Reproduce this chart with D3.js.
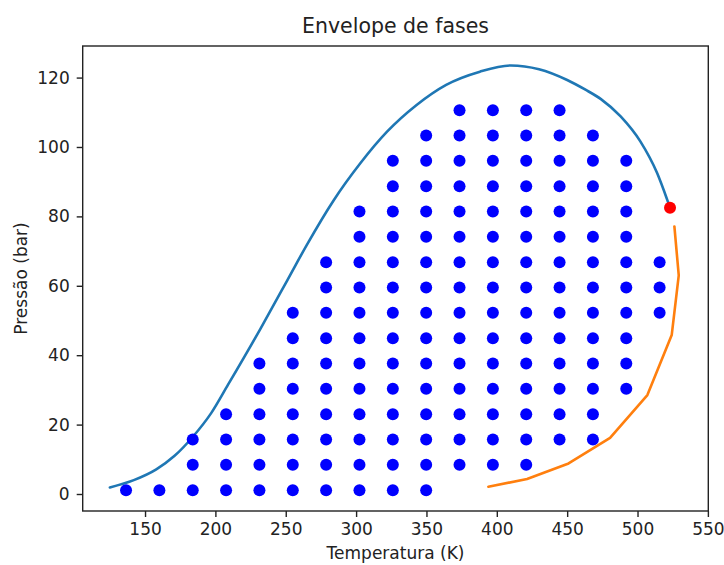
<!DOCTYPE html>
<html>
<head>
<meta charset="utf-8">
<script src="https://cdn.jsdelivr.net/npm/d3@7"></script>
<style>
  html, body { margin: 0; padding: 0; background: #fff; }
  svg { display: block; }
  text { font-family: "DejaVu Sans", sans-serif; fill: #222; }
</style>
</head>
<body>
<svg id="chart" width="724" height="565"></svg>
<script>
// Phase envelope: dew/bubble curve (blue), second branch (orange),
// critical point (red) and the grid of (T, P) states inside the envelope.

const title = "Envelope de fases";
const xLabel = "Temperatura (K)";
const yLabel = "Pressão (bar)";

const xTicks = [150, 200, 250, 300, 350, 400, 450, 500, 550];
const yTicks = [0, 20, 40, 60, 80, 100, 120];

// Envelope branch ending at the critical point: [T (K), P (bar)]
const envelopeUpper = [
  [125, 1.9], [142, 4.0], [158, 7.1], [171, 11.0], [184, 16.5], [197, 23.3],
  [209, 31.5], [232, 47.6], [251, 61.5], [265, 71.8], [284, 84.6],
  [303, 95.3], [322, 104.4], [343, 112.1], [364, 117.9], [388, 121.7],
  [410, 123.5], [430, 122.4], [450, 119.3], [463, 116.5], [474, 113.8],
  [488, 108.8], [502, 101.6], [514, 92.4], [521, 84.9], [523.1, 82.5]
];

// Lower-right branch
const envelopeLower = [
  [394, 2.1], [421.5, 4.3], [451, 8.8], [480.5, 16.2], [507, 28.5],
  [524.3, 45.8], [529.3, 63.0], [526.2, 77.1]
];

// Critical point
const criticalPoint = [523.1, 82.5];

// Grid of states evaluated inside the envelope
const gridT = [136.5, 160.2, 183.9, 207.6, 231.3, 255.0, 278.7, 302.4, 326.1,
               349.8, 373.5, 397.2, 420.9, 444.6, 468.3, 492.0, 515.7];
const gridP = [1.1, 8.4, 15.7, 23.0, 30.3, 37.6, 44.9, 52.2, 59.5, 66.8,
               74.1, 81.4, 88.7, 96.0, 103.3, 110.6];
// For each temperature column: first and last pressure index that lies inside
const gridRowFirst = [0, 0, 0, 0, 0, 0, 0, 0, 0, 0, 1, 1, 1, 2, 2, 4, 7];
const gridRowLast  = [0, 0, 2, 3, 5, 7, 9, 11, 13, 14, 15, 15, 15, 15, 14, 13, 9];

const gridPoints = [];
gridT.forEach((t, i) => {
  for (let j = gridRowFirst[i]; j <= gridRowLast[i]; j++) {
    gridPoints.push([t, gridP[j]]);
  }
});

const svg = d3.select("#chart");
const plot = { left: 82.7, right: 708.3, top: 46, bottom: 511 };

const x = d3.scaleLinear().domain([105.7, 550.3]).range([plot.left, plot.right]);
const y = d3.scaleLinear().domain([-4.9, 129.1]).range([plot.bottom, plot.top]);

// Axes
const xAxis = svg.append("g")
  .attr("transform", `translate(0,${plot.bottom})`)
  .call(d3.axisBottom(x).tickValues(xTicks).tickSize(6).tickPadding(6).tickFormat(d3.format("d")));
const yAxis = svg.append("g")
  .attr("transform", `translate(${plot.left},0)`)
  .call(d3.axisLeft(y).tickValues(yTicks).tickSize(6).tickPadding(7).tickFormat(d3.format("d")));

[xAxis, yAxis].forEach(g => {
  g.select(".domain").remove();
  g.selectAll(".tick line").attr("stroke", "#222").attr("stroke-width", 1.4);
  g.selectAll(".tick text")
    .style("font-family", '"DejaVu Sans", sans-serif')
    .style("font-size", "17px")
    .attr("fill", "#222");
});

// Data layers
svg.append("path")
  .datum(envelopeUpper)
  .attr("fill", "none")
  .attr("stroke", "#1f77b4")
  .attr("stroke-width", 2.6)
  .attr("stroke-linejoin", "round")
  .attr("stroke-linecap", "round")
  .attr("d", d3.line().x(d => x(d[0])).y(d => y(d[1])).curve(d3.curveMonotoneX));

svg.append("path")
  .datum(envelopeLower)
  .attr("fill", "none")
  .attr("stroke", "#ff7f0e")
  .attr("stroke-width", 2.6)
  .attr("stroke-linejoin", "round")
  .attr("stroke-linecap", "round")
  .attr("d", d3.line().x(d => x(d[0])).y(d => y(d[1])));

svg.append("g")
  .selectAll("circle")
  .data(gridPoints)
  .join("circle")
  .attr("cx", d => x(d[0]))
  .attr("cy", d => y(d[1]))
  .attr("r", 6)
  .attr("fill", "#0000ff");

svg.append("circle")
  .attr("cx", x(criticalPoint[0]))
  .attr("cy", y(criticalPoint[1]))
  .attr("r", 6)
  .attr("fill", "#ff0000");

// Frame
svg.append("rect")
  .attr("x", plot.left)
  .attr("y", plot.top)
  .attr("width", plot.right - plot.left)
  .attr("height", plot.bottom - plot.top)
  .attr("fill", "none")
  .attr("stroke", "#222")
  .attr("stroke-width", 1.4);

// Titles
svg.append("text")
  .attr("x", (plot.left + plot.right) / 2)
  .attr("y", 33)
  .attr("text-anchor", "middle")
  .style("font-size", "20.5px")
  .text(title);

svg.append("text")
  .attr("x", (plot.left + plot.right) / 2)
  .attr("y", 559)
  .attr("text-anchor", "middle")
  .style("font-size", "17px")
  .text(xLabel);

svg.append("text")
  .attr("transform", `translate(27,${(plot.top + plot.bottom) / 2}) rotate(-90)`)
  .attr("text-anchor", "middle")
  .style("font-size", "17px")
  .text(yLabel);
</script>
</body>
</html>
